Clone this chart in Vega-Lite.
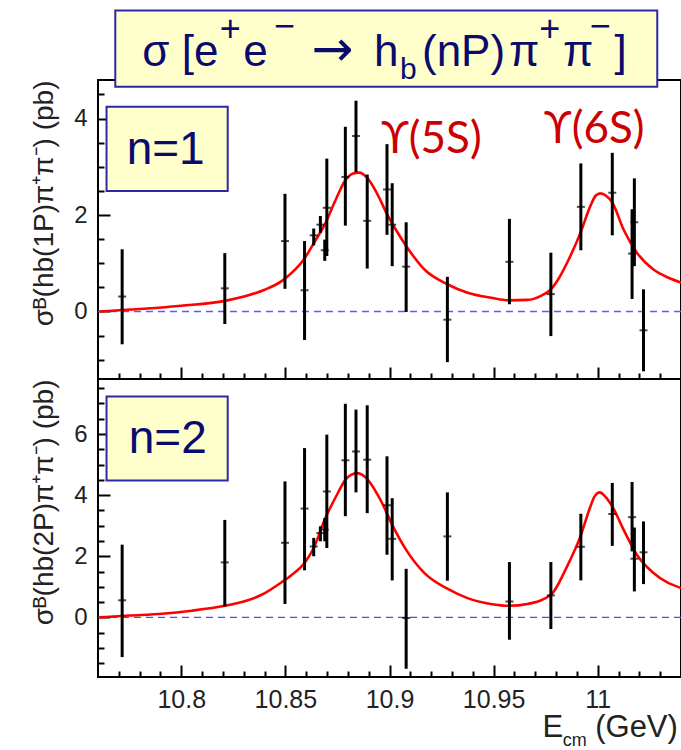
{
  "$schema": "https://vega.github.io/schema/vega-lite/v6.json",
  "background": "white",
  "padding": {"left": 29, "top": 7, "right": 0, "bottom": 4},
  "spacing": 0,
  "bounds": "flush",
  "resolve": {"scale": {"x": "independent", "y": "independent"}},
  "datasets": {
    "p1": [
      {"E": 10.7716, "s": 0.31, "lo": -0.68, "hi": 1.29},
      {"E": 10.8209, "s": 0.48, "lo": -0.26, "hi": 1.21},
      {"E": 10.8498, "s": 1.46, "lo": 0.47, "hi": 2.44},
      {"E": 10.8592, "s": 0.44, "lo": -0.59, "hi": 1.46},
      {"E": 10.8636, "s": 1.58, "lo": 1.37, "hi": 1.72},
      {"E": 10.8668, "s": 1.80, "lo": 1.63, "hi": 1.98},
      {"E": 10.8689, "s": 1.27, "lo": 1.05, "hi": 1.49},
      {"E": 10.8699, "s": 2.15, "lo": 1.15, "hi": 3.17},
      {"E": 10.8788, "s": 2.79, "lo": 1.78, "hi": 3.83},
      {"E": 10.8839, "s": 3.64, "lo": 2.89, "hi": 4.37},
      {"E": 10.8893, "s": 1.88, "lo": 0.89, "hi": 2.84},
      {"E": 10.8988, "s": 2.53, "lo": 1.59, "hi": 3.47},
      {"E": 10.9013, "s": 1.80, "lo": 0.94, "hi": 2.66},
      {"E": 10.9080, "s": 0.93, "lo": -0.01, "hi": 1.85},
      {"E": 10.9278, "s": -0.17, "lo": -1.05, "hi": 0.72},
      {"E": 10.9576, "s": 1.03, "lo": 0.15, "hi": 1.92},
      {"E": 10.9775, "s": 0.36, "lo": -0.51, "hi": 1.22},
      {"E": 10.9919, "s": 2.17, "lo": 1.27, "hi": 3.07},
      {"E": 11.0070, "s": 2.46, "lo": 1.58, "hi": 3.29},
      {"E": 11.0165, "s": 1.20, "lo": 0.26, "hi": 2.12},
      {"E": 11.0176, "s": 1.85, "lo": 0.94, "hi": 2.76},
      {"E": 11.0220, "s": -0.39, "lo": -1.24, "hi": 0.46}
    ],
    "p2": [
      {"E": 10.7716, "s": 0.56, "lo": -1.30, "hi": 2.38},
      {"E": 10.8209, "s": 1.80, "lo": 0.36, "hi": 3.19},
      {"E": 10.8498, "s": 2.44, "lo": 0.44, "hi": 4.45},
      {"E": 10.8592, "s": 3.56, "lo": 1.54, "hi": 5.54},
      {"E": 10.8636, "s": 2.32, "lo": 2.00, "hi": 2.60},
      {"E": 10.8668, "s": 2.76, "lo": 2.49, "hi": 2.98},
      {"E": 10.8689, "s": 2.87, "lo": 2.49, "hi": 3.25},
      {"E": 10.8699, "s": 4.12, "lo": 2.27, "hi": 5.98},
      {"E": 10.8788, "s": 5.14, "lo": 3.31, "hi": 6.99},
      {"E": 10.8839, "s": 5.43, "lo": 4.09, "hi": 6.80},
      {"E": 10.8893, "s": 5.16, "lo": 3.41, "hi": 6.94},
      {"E": 10.8988, "s": 3.67, "lo": 2.05, "hi": 5.27},
      {"E": 10.9013, "s": 2.57, "lo": 1.21, "hi": 3.90},
      {"E": 10.9080, "s": -0.02, "lo": -1.68, "hi": 1.59},
      {"E": 10.9278, "s": 2.65, "lo": 1.20, "hi": 4.09},
      {"E": 10.9576, "s": 0.52, "lo": -0.73, "hi": 1.81},
      {"E": 10.9775, "s": 0.72, "lo": -0.38, "hi": 1.81},
      {"E": 10.9919, "s": 2.31, "lo": 1.21, "hi": 3.39},
      {"E": 11.0070, "s": 3.38, "lo": 2.34, "hi": 4.40},
      {"E": 11.0165, "s": 3.28, "lo": 2.16, "hi": 4.43},
      {"E": 11.0176, "s": 1.92, "lo": 0.85, "hi": 2.94},
      {"E": 11.0220, "s": 2.13, "lo": 1.09, "hi": 3.14}
    ],
    "c1": [
      {"E": 10.7608, "s": 0.0}, {"E": 10.78, "s": 0.05}, {"E": 10.8, "s": 0.12}, {"E": 10.821, "s": 0.22},
      {"E": 10.83, "s": 0.31}, {"E": 10.84, "s": 0.45}, {"E": 10.8482, "s": 0.63}, {"E": 10.853, "s": 0.8},
      {"E": 10.8592, "s": 1.1}, {"E": 10.8641, "s": 1.45}, {"E": 10.8689, "s": 1.8}, {"E": 10.874, "s": 2.3},
      {"E": 10.8788, "s": 2.72}, {"E": 10.8825, "s": 2.86}, {"E": 10.8855, "s": 2.88}, {"E": 10.8893, "s": 2.77},
      {"E": 10.894, "s": 2.45}, {"E": 10.8988, "s": 2.02}, {"E": 10.903, "s": 1.7}, {"E": 10.908, "s": 1.36},
      {"E": 10.9168, "s": 0.87}, {"E": 10.928, "s": 0.56}, {"E": 10.9375, "s": 0.39}, {"E": 10.948, "s": 0.29},
      {"E": 10.9576, "s": 0.23}, {"E": 10.9663, "s": 0.24}, {"E": 10.9725, "s": 0.32}, {"E": 10.9775, "s": 0.46},
      {"E": 10.9815, "s": 0.7}, {"E": 10.9853, "s": 1.01}, {"E": 10.9917, "s": 1.63}, {"E": 10.9965, "s": 2.19},
      {"E": 10.999, "s": 2.4}, {"E": 11.0013, "s": 2.45}, {"E": 11.004, "s": 2.4}, {"E": 11.007, "s": 2.26},
      {"E": 11.0124, "s": 1.7}, {"E": 11.0188, "s": 1.22}, {"E": 11.0268, "s": 0.87}, {"E": 11.034, "s": 0.7},
      {"E": 11.04, "s": 0.6}
    ],
    "c2": [
      {"E": 10.7608, "s": 0.0}, {"E": 10.775, "s": 0.06}, {"E": 10.7908, "s": 0.12}, {"E": 10.805, "s": 0.22},
      {"E": 10.821, "s": 0.38}, {"E": 10.83, "s": 0.52}, {"E": 10.8386, "s": 0.74}, {"E": 10.8482, "s": 1.15},
      {"E": 10.853, "s": 1.39}, {"E": 10.8592, "s": 1.78}, {"E": 10.8636, "s": 2.27}, {"E": 10.8689, "s": 3.2},
      {"E": 10.8752, "s": 4.07}, {"E": 10.8788, "s": 4.5}, {"E": 10.8815, "s": 4.66}, {"E": 10.8845, "s": 4.72},
      {"E": 10.887, "s": 4.66}, {"E": 10.8896, "s": 4.5}, {"E": 10.896, "s": 3.8}, {"E": 10.9013, "s": 3.03},
      {"E": 10.908, "s": 2.21}, {"E": 10.9168, "s": 1.45}, {"E": 10.928, "s": 0.93}, {"E": 10.9375, "s": 0.63},
      {"E": 10.9486, "s": 0.44}, {"E": 10.9576, "s": 0.38}, {"E": 10.9663, "s": 0.44}, {"E": 10.9775, "s": 0.74},
      {"E": 10.9853, "s": 1.67}, {"E": 10.9917, "s": 2.65}, {"E": 10.9965, "s": 3.63}, {"E": 10.9985, "s": 3.96},
      {"E": 11.001, "s": 4.09}, {"E": 11.0035, "s": 3.96}, {"E": 11.007, "s": 3.63}, {"E": 11.0124, "s": 2.87},
      {"E": 11.0188, "s": 2.05}, {"E": 11.0268, "s": 1.45}, {"E": 11.04, "s": 0.96}
    ]
  },
  "vconcat": [
    {
      "width": 583,
      "height": 299,
      "resolve": {"axis": {"x": "independent", "y": "independent"}},
      "layer": [
        {
          "data": {"values": [{}]},
          "mark": {"type": "rule", "color": "#5a5aff", "strokeDash": [7, 5], "strokeWidth": 1.3},
          "encoding": {
            "y": {
              "datum": 0, "type": "quantitative",
              "scale": {"domain": [-1.4, 4.8], "nice": false, "zero": false},
              "axis": {
                "orient": "left",
                "title": "σᴮ(hb(1P)π⁺π⁻)  (pb)",
                "values": [0, 2, 4],
                "format": "~g",
                "offset": -12,
                "tickSize": 12,
                "labelPadding": 11,
                "labelOverlap": false,
                "titleAnchor": "end",
                "titleFontSize": 28,
                "titlePadding": 15
              }
            }
          }
        },
        {
          "data": {"name": "c1"},
          "mark": {"type": "line", "color": "#ff0000", "strokeWidth": 2.6, "interpolate": "monotone", "clip": true},
          "encoding": {
            "x": {
              "field": "E", "type": "quantitative",
              "scale": {"domain": [10.76, 11.04], "nice": false, "zero": false},
              "axis": {"orient": "bottom", "title": null, "labels": false, "values": [10.8, 10.85, 10.9, 10.95, 11], "offset": -12, "tickSize": 12}
            },
            "y": {
              "field": "s", "type": "quantitative",
              "axis": {"orient": "left", "title": null, "labels": false, "values": [-1, -0.5, 0.5, 1, 1.5, 2.5, 3, 3.5, 4.5], "offset": -6, "tickSize": 6}
            }
          }
        },
        {
          "data": {"name": "p1"},
          "mark": {"type": "rule", "color": "#000", "strokeWidth": 3},
          "encoding": {
            "x": {
              "field": "E", "type": "quantitative",
              "axis": {"orient": "bottom", "title": null, "labels": false, "values": [10.77, 10.78, 10.79, 10.81, 10.82, 10.83, 10.84, 10.86, 10.87, 10.88, 10.89, 10.91, 10.92, 10.93, 10.94, 10.96, 10.97, 10.98, 10.99, 11.01, 11.02, 11.03], "offset": -6, "tickSize": 6}
            },
            "y": {"field": "lo", "type": "quantitative", "axis": null},
            "y2": {"field": "hi"}
          }
        },
        {
          "data": {"name": "p1"},
          "mark": {"type": "tick", "orient": "horizontal", "color": "#000", "size": 8, "thickness": 2},
          "encoding": {
            "x": {"field": "E", "type": "quantitative", "axis": null},
            "y": {"field": "s", "type": "quantitative", "axis": null}
          }
        },
        {
          "data": {"values": [{}]},
          "mark": {"type": "rect", "fill": "#ffffcc", "stroke": "#2a2aa5", "strokeWidth": 2, "clip": false},
          "encoding": {
            "x": {"datum": 10.7641, "type": "quantitative", "axis": null},
            "x2": {"datum": 10.8223},
            "y": {"datum": 4.247, "type": "quantitative", "axis": null},
            "y2": {"datum": 2.498}
          }
        },
        {
          "data": {"values": [{}]},
          "mark": {"type": "text", "text": "n=1", "font": "Liberation Sans", "fontSize": 46, "color": "#0b0b6e", "align": "center", "baseline": "alphabetic", "clip": false},
          "encoding": {
            "x": {"datum": 10.7925, "type": "quantitative", "axis": null},
            "y": {"datum": 3.05, "type": "quantitative", "axis": null}
          }
        },
        {
          "data": {"values": [{}]},
          "mark": {"type": "rect", "fill": "#ffffcc", "stroke": "#2a2aa5", "strokeWidth": 2, "clip": false},
          "encoding": {
            "x": {"datum": 10.7683, "type": "quantitative", "axis": null},
            "x2": {"datum": 11.0286},
            "y": {"datum": 6.24, "type": "quantitative", "axis": null},
            "y2": {"datum": 4.66}
          }
        },
        {
          "data": {"values": [{}]},
          "mark": {"type": "text", "text": "σ [e", "font": "Liberation Sans", "fontSize": 44, "color": "#0b0b6e", "align": "left", "baseline": "alphabetic", "clip": false},
          "encoding": {"x": {"datum": 10.7813, "type": "quantitative", "axis": null}, "y": {"datum": 5.10, "type": "quantitative", "axis": null}}
        },
        {
          "data": {"values": [{}]},
          "mark": {"type": "text", "text": "+", "font": "Liberation Sans", "fontSize": 36, "color": "#0b0b6e", "align": "left", "baseline": "alphabetic", "clip": false},
          "encoding": {"x": {"datum": 10.8185, "type": "quantitative", "axis": null}, "y": {"datum": 5.6, "type": "quantitative", "axis": null}}
        },
        {
          "data": {"values": [{}]},
          "mark": {"type": "text", "text": "e", "font": "Liberation Sans", "fontSize": 44, "color": "#0b0b6e", "align": "left", "baseline": "alphabetic", "clip": false},
          "encoding": {"x": {"datum": 10.8297, "type": "quantitative", "axis": null}, "y": {"datum": 5.10, "type": "quantitative", "axis": null}}
        },
        {
          "data": {"values": [{}]},
          "mark": {"type": "text", "text": "−", "font": "Liberation Sans", "fontSize": 36, "color": "#0b0b6e", "align": "left", "baseline": "alphabetic", "clip": false},
          "encoding": {"x": {"datum": 10.8445, "type": "quantitative", "axis": null}, "y": {"datum": 5.68, "type": "quantitative", "axis": null}}
        },
        {
          "data": {"values": [{}]},
          "mark": {"type": "text", "text": "→", "font": "DejaVu Sans", "fontSize": 50, "color": "#0b0b6e", "align": "left", "baseline": "alphabetic", "clip": false},
          "encoding": {"x": {"datum": 10.8625, "type": "quantitative", "axis": null}, "y": {"datum": 5.10, "type": "quantitative", "axis": null}}
        },
        {
          "data": {"values": [{}]},
          "mark": {"type": "text", "text": "h", "font": "Liberation Sans", "fontSize": 44, "color": "#0b0b6e", "align": "left", "baseline": "alphabetic", "clip": false},
          "encoding": {"x": {"datum": 10.8925, "type": "quantitative", "axis": null}, "y": {"datum": 5.10, "type": "quantitative", "axis": null}}
        },
        {
          "data": {"values": [{}]},
          "mark": {"type": "text", "text": "b", "font": "Liberation Sans", "fontSize": 30, "color": "#0b0b6e", "align": "left", "baseline": "alphabetic", "clip": false},
          "encoding": {"x": {"datum": 10.905, "type": "quantitative", "axis": null}, "y": {"datum": 4.83, "type": "quantitative", "axis": null}}
        },
        {
          "data": {"values": [{}]},
          "mark": {"type": "text", "text": "(nP)", "font": "Liberation Sans", "fontSize": 44, "color": "#0b0b6e", "align": "left", "baseline": "alphabetic", "clip": false},
          "encoding": {"x": {"datum": 10.9156, "type": "quantitative", "axis": null}, "y": {"datum": 5.10, "type": "quantitative", "axis": null}}
        },
        {
          "data": {"values": [{}]},
          "mark": {"type": "text", "text": "π", "font": "Liberation Sans", "fontSize": 44, "color": "#0b0b6e", "align": "left", "baseline": "alphabetic", "clip": false},
          "encoding": {"x": {"datum": 10.9574, "type": "quantitative", "axis": null}, "y": {"datum": 5.10, "type": "quantitative", "axis": null}}
        },
        {
          "data": {"values": [{}]},
          "mark": {"type": "text", "text": "+", "font": "Liberation Sans", "fontSize": 36, "color": "#0b0b6e", "align": "left", "baseline": "alphabetic", "clip": false},
          "encoding": {"x": {"datum": 10.9719, "type": "quantitative", "axis": null}, "y": {"datum": 5.6, "type": "quantitative", "axis": null}}
        },
        {
          "data": {"values": [{}]},
          "mark": {"type": "text", "text": "π", "font": "Liberation Sans", "fontSize": 44, "color": "#0b0b6e", "align": "left", "baseline": "alphabetic", "clip": false},
          "encoding": {"x": {"datum": 10.9833, "type": "quantitative", "axis": null}, "y": {"datum": 5.10, "type": "quantitative", "axis": null}}
        },
        {
          "data": {"values": [{}]},
          "mark": {"type": "text", "text": "−", "font": "Liberation Sans", "fontSize": 36, "color": "#0b0b6e", "align": "left", "baseline": "alphabetic", "clip": false},
          "encoding": {"x": {"datum": 10.9962, "type": "quantitative", "axis": null}, "y": {"datum": 5.68, "type": "quantitative", "axis": null}}
        },
        {
          "data": {"values": [{}]},
          "mark": {"type": "text", "text": "]", "font": "Liberation Sans", "fontSize": 44, "color": "#0b0b6e", "align": "left", "baseline": "alphabetic", "clip": false},
          "encoding": {"x": {"datum": 11.0081, "type": "quantitative", "axis": null}, "y": {"datum": 5.10, "type": "quantitative", "axis": null}}
        },
        {
          "data": {"values": [{}]},
          "mark": {"type": "text", "text": "ϒ(5S)", "font": "Lato", "fontSize": 44, "color": "#cc0000", "align": "left", "baseline": "alphabetic", "clip": false},
          "encoding": {"x": {"datum": 10.896, "type": "quantitative", "axis": null}, "y": {"datum": 3.29, "type": "quantitative", "axis": null}}
        },
        {
          "data": {"values": [{}]},
          "mark": {"type": "text", "text": "ϒ(6S)", "font": "Lato", "fontSize": 44, "color": "#cc0000", "align": "left", "baseline": "alphabetic", "clip": false},
          "encoding": {"x": {"datum": 10.9742, "type": "quantitative", "axis": null}, "y": {"datum": 3.50, "type": "quantitative", "axis": null}}
        }
      ]
    },
    {
      "width": 583,
      "height": 298,
      "resolve": {"axis": {"x": "independent", "y": "independent"}},
      "layer": [
        {
          "data": {"values": [{}]},
          "mark": {"type": "rule", "color": "#4a4aff", "strokeDash": [7, 5], "strokeWidth": 1.3},
          "encoding": {
            "y": {
              "datum": 0, "type": "quantitative",
              "scale": {"domain": [-1.95, 7.8], "nice": false, "zero": false},
              "axis": {
                "orient": "left",
                "title": "σᴮ(hb(2P)π⁺π⁻)  (pb)",
                "values": [0, 2, 4, 6],
                "format": "~g",
                "offset": -12,
                "tickSize": 12,
                "labelPadding": 11,
                "labelOverlap": false,
                "titleAnchor": "end",
                "titleFontSize": 28,
                "titlePadding": 15
              }
            }
          }
        },
        {
          "data": {"name": "c2"},
          "mark": {"type": "line", "color": "#ff0000", "strokeWidth": 2.6, "interpolate": "monotone", "clip": true},
          "encoding": {
            "x": {
              "field": "E", "type": "quantitative",
              "scale": {"domain": [10.76, 11.04], "nice": false, "zero": false},
              "axis": {
                "orient": "bottom",
                "title": null,
                "values": [10.8, 10.85, 10.9, 10.95, 11],
                "format": "~g",
                "offset": -12,
                "tickSize": 12,
                "labelPadding": 10,
                "labelFontSize": 25,
                "labelFlush": false,
                "labelOverlap": false
              }
            },
            "y": {
              "field": "s", "type": "quantitative",
              "axis": {"orient": "left", "title": null, "labels": false, "values": [-1.5, -1, -0.5, 0.5, 1, 1.5, 2.5, 3, 3.5, 4.5, 5, 5.5, 6.5, 7, 7.5], "offset": -6, "tickSize": 6}
            }
          }
        },
        {
          "data": {"name": "p2"},
          "mark": {"type": "rule", "color": "#000", "strokeWidth": 3},
          "encoding": {
            "x": {
              "field": "E", "type": "quantitative",
              "axis": {"orient": "bottom", "title": null, "labels": false, "values": [10.77, 10.78, 10.79, 10.81, 10.82, 10.83, 10.84, 10.86, 10.87, 10.88, 10.89, 10.91, 10.92, 10.93, 10.94, 10.96, 10.97, 10.98, 10.99, 11.01, 11.02, 11.03], "offset": -6, "tickSize": 6}
            },
            "y": {"field": "lo", "type": "quantitative", "axis": null},
            "y2": {"field": "hi"}
          }
        },
        {
          "data": {"name": "p2"},
          "mark": {"type": "tick", "orient": "horizontal", "color": "#000", "size": 8, "thickness": 2},
          "encoding": {
            "x": {"field": "E", "type": "quantitative", "axis": null},
            "y": {"field": "s", "type": "quantitative", "axis": null}
          }
        },
        {
          "data": {"values": [{}]},
          "mark": {"type": "rect", "fill": "#ffffcc", "stroke": "#2a2aa5", "strokeWidth": 2, "clip": false},
          "encoding": {
            "x": {"datum": 10.7641, "type": "quantitative", "axis": null},
            "x2": {"datum": 10.8223},
            "y": {"datum": 7.23, "type": "quantitative", "axis": null},
            "y2": {"datum": 4.48}
          }
        },
        {
          "data": {"values": [{}]},
          "mark": {"type": "text", "text": "n=2", "font": "Liberation Sans", "fontSize": 46, "color": "#0b0b6e", "align": "center", "baseline": "alphabetic", "clip": false},
          "encoding": {"x": {"datum": 10.7935, "type": "quantitative", "axis": null}, "y": {"datum": 5.38, "type": "quantitative", "axis": null}}
        },
        {
          "data": {"values": [{}]},
          "mark": {"type": "text", "text": "E", "font": "Liberation Sans", "fontSize": 31, "color": "#222", "align": "left", "baseline": "alphabetic", "clip": false},
          "encoding": {"x": {"datum": 10.9735, "type": "quantitative", "axis": null}, "y": {"datum": -3.91, "type": "quantitative", "axis": null}}
        },
        {
          "data": {"values": [{}]},
          "mark": {"type": "text", "text": "cm", "font": "Liberation Sans", "fontSize": 18, "color": "#222", "align": "left", "baseline": "alphabetic", "clip": false},
          "encoding": {"x": {"datum": 10.9832, "type": "quantitative", "axis": null}, "y": {"datum": -4.2, "type": "quantitative", "axis": null}}
        },
        {
          "data": {"values": [{}]},
          "mark": {"type": "text", "text": "(GeV)", "font": "Liberation Sans", "fontSize": 31, "color": "#222", "align": "right", "baseline": "alphabetic", "clip": false},
          "encoding": {"x": {"datum": 11.0385, "type": "quantitative", "axis": null}, "y": {"datum": -3.91, "type": "quantitative", "axis": null}}
        }
      ]
    }
  ],
  "config": {
    "view": {"stroke": "#000", "strokeWidth": 2},
    "axis": {
      "domain": false,
      "grid": false,
      "tickColor": "#000",
      "tickWidth": 2,
      "labelFont": "Liberation Sans",
      "labelFontSize": 24,
      "labelColor": "#222",
      "titleFont": "Liberation Sans",
      "titleFontWeight": "normal",
      "titleColor": "#222"
    }
  }
}
